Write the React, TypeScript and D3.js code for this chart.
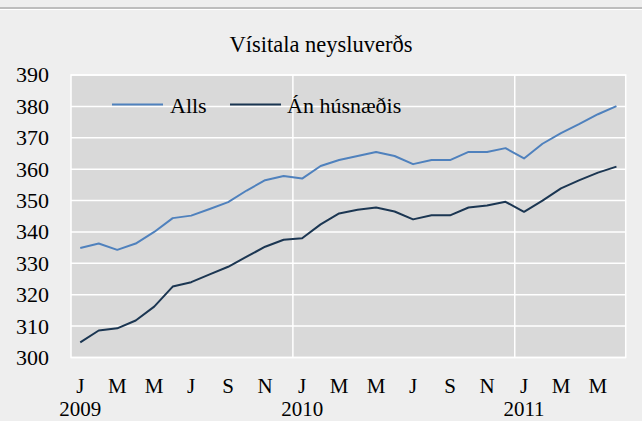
import React from "react";
import * as d3 from "d3";

const monthLetters = ["J", "F", "M", "A", "M", "J", "J", "Á", "S", "O", "N", "D"];
const years = ["2009", "2010", "2011"];
const nMonths = 30;
const yTicks = [300, 310, 320, 330, 340, 350, 360, 370, 380, 390];
const seriesNames = ["Alls", "Án húsnæðis"];

const alls = [
  334.9, 336.3, 334.3, 336.3, 340.0, 344.4, 345.2, 347.3, 349.5, 353.2, 356.5, 357.8,
  357.0, 361.0, 362.9, 364.2, 365.5, 364.2, 361.6, 362.9, 362.9, 365.5, 365.5, 366.7,
  363.4, 368.1, 371.5, 374.4, 377.5, 380.1,
];
const anHusnaedis = [
  304.8, 308.6, 309.3, 311.8, 316.2, 322.6, 324.0, 326.5, 328.9, 332.1, 335.3, 337.5,
  338.0, 342.4, 345.9, 347.1, 347.8, 346.5, 344.0, 345.3, 345.3, 347.8, 348.4, 349.6,
  346.4, 350.0, 353.9, 356.5, 358.9, 360.8,
];

const W = 642;
const H = 421;
const L = 71;
const R = 625.7;
const T = 75;
const B = 357.5;
const FONT = "Liberation Serif, Times New Roman, DejaVu Serif, serif";
const colors = ["#4f81bd", "#1b3652"];

export default function App() {
  const idx = d3.range(nMonths);
  const x = d3.scaleBand<number>().domain(idx).range([L, R]).padding(0);
  const y = d3.scaleLinear().domain([300, 390]).range([B, T]);
  const cx = (i: number) => (x(i) as number) + x.bandwidth() / 2;
  const line = d3
    .line<number>()
    .x((_, i) => cx(i))
    .y((d) => y(d));
  const series = [alls, anHusnaedis];
  const ts = { fontFamily: FONT };

  return (
    <svg
      width={W}
      height={H}
      style={{ position: "absolute", left: 0, top: 0, display: "block", fontFamily: FONT }}
    >
      <rect x={0} y={0} width={W} height={H} fill="#eeeeee" />
      <rect x={0} y={7} width={W} height={2} fill="#bdbdbd" />
      <rect x={0} y={9} width={W} height={1} fill="#ffffff" />
      <text x={321} y={52} textAnchor="middle" fontSize={22.5} fill="#000" style={ts}>
        Vísitala neysluverðs
      </text>
      <rect x={L} y={T} width={R - L} height={B - T} fill="#d9d9d9" />
      {yTicks.map((t) => (
        <line key={"g" + t} x1={L} x2={R} y1={y(t)} y2={y(t)} stroke="#fff" strokeWidth={1.5} />
      ))}
      {[12, 24].map((i) => (
        <line
          key={"v" + i}
          x1={x(i) as number}
          x2={x(i) as number}
          y1={T}
          y2={B}
          stroke="#fff"
          strokeWidth={1.5}
        />
      ))}
      <rect x={L} y={T} width={R - L} height={B - T} fill="none" stroke="#fff" strokeWidth={1.5} />
      {yTicks.map((t) => (
        <text key={"yl" + t} x={49} y={y(t)} dy="0.34em" textAnchor="end" fontSize={22} fill="#000" style={ts}>
          {t}
        </text>
      ))}
      {idx
        .filter((i) => i % 2 === 0)
        .map((i) => (
          <text key={"m" + i} x={cx(i)} y={392.5} textAnchor="middle" fontSize={21} fill="#000" style={ts}>
            {monthLetters[i % 12]}
          </text>
        ))}
      {years.map((yr, k) => (
        <text key={yr} x={cx(k * 12)} y={416.3} textAnchor="middle" fontSize={21} fill="#000" style={ts}>
          {yr}
        </text>
      ))}
      {series.map((s, k) => (
        <path key={"s" + k} d={line(s) || ""} fill="none" stroke={colors[k]} strokeWidth={2} strokeLinejoin="round" />
      ))}
      {/* legend */}
      <line x1={112} x2={163} y1={104.5} y2={104.5} stroke={colors[0]} strokeWidth={2} />
      <text x={170} y={113} fontSize={22} fill="#000" style={ts}>
        {seriesNames[0]}
      </text>
      <line x1={230} x2={281} y1={104.5} y2={104.5} stroke={colors[1]} strokeWidth={2} />
      <text x={287} y={113} fontSize={22} fill="#000" style={ts}>
        {seriesNames[1]}
      </text>
    </svg>
  );
}
